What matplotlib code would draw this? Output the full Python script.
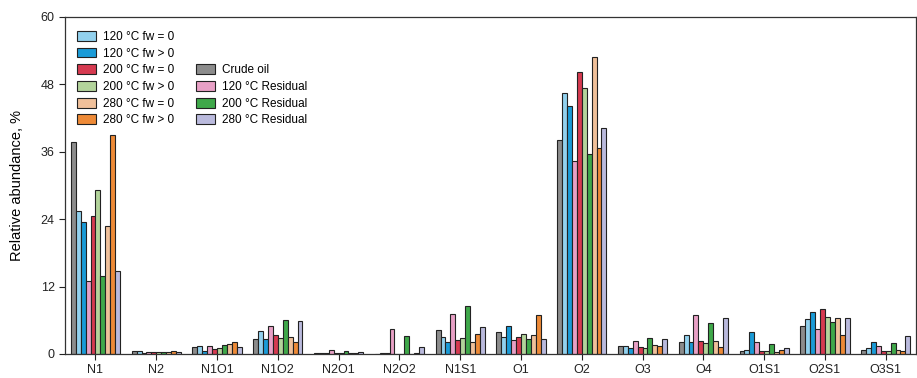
import numpy as np
import matplotlib
matplotlib.use('Agg')
from matplotlib import pyplot as plt
from matplotlib.patches import Patch

plt.rcParams['font.family'] = ['Liberation Sans', 'DejaVu Sans']

groups = ['N1', 'N2', 'N1O1', 'N1O2', 'N2O1', 'N2O2', 'N1S1', 'O1', 'O2',
          'O3', 'O4', 'O1S1', 'O2S1', 'O3S1']

crude     = [37.7, 0.5, 1.2, 2.6, 0.1, 0.05, 4.3, 3.9, 38.0, 1.4, 2.1, 0.6, 5.0, 0.8]
t120_fw0  = [25.5, 0.5, 1.4, 4.1, 0.1, 0.1, 3.0, 3.0, 46.5, 1.5, 3.4, 0.7, 6.25, 1.1]
t120_fw1  = [23.5, 0.2, 0.6, 2.7, 0.1, 0.1, 2.1, 4.9, 44.2, 1.0, 2.2, 3.9, 7.4, 2.1]
t120_res  = [13.0, 0.35, 1.4, 4.9, 0.7, 4.4, 7.1, 2.5, 34.4, 2.3, 7.0, 2.1, 4.4, 1.5]
t200_fw0  = [24.6, 0.35, 0.9, 3.4, 0.2, 0.0, 2.5, 3.0, 50.1, 1.3, 2.4, 0.5, 8.0, 0.6]
t200_fw1  = [29.2, 0.35, 1.0, 2.9, 0.1, 0.0, 2.9, 3.6, 47.3, 1.1, 2.0, 0.5, 6.5, 0.5]
t200_res  = [13.8, 0.3, 1.6, 6.1, 0.5, 3.2, 8.6, 2.6, 35.6, 2.8, 5.5, 1.7, 5.7, 2.0]
t280_fw0  = [22.7, 0.3, 1.8, 3.0, 0.1, 0.0, 2.1, 3.3, 52.9, 1.6, 2.3, 0.35, 6.4, 0.8]
t280_fw1  = [38.9, 0.5, 2.1, 2.1, 0.1, 0.25, 3.6, 7.0, 36.6, 1.4, 1.25, 0.7, 3.4, 0.5]
t280_res  = [14.8, 0.3, 1.2, 5.8, 0.35, 1.25, 4.8, 2.7, 40.2, 2.7, 6.4, 1.1, 6.4, 3.2]

series = [crude, t120_fw0, t120_fw1, t120_res, t200_fw0, t200_fw1, t200_res,
          t280_fw0, t280_fw1, t280_res]
labels = ['Crude oil', '120 °C fw = 0', '120 °C fw > 0', '120 °C Residual',
          '200 °C fw = 0', '200 °C fw > 0', '200 °C Residual',
          '280 °C fw = 0', '280 °C fw > 0', '280 °C Residual']
colors = ['#8c8c8c', '#92d1ee', '#1a9bd7', '#e8a0c6', '#d63a50', '#b3d49b',
          '#3fa84a', '#f0c09a', '#ee8a37', '#babadd']

fig = plt.figure(figsize=(9.17, 3.78), dpi=100)
ax = fig.add_axes([0.071, 0.0635, 0.928, 0.892])

x = np.arange(len(groups))
w = 0.081
bars = {}
for i, (vals, lab, col) in enumerate(zip(series, labels, colors)):
    bars[lab] = ax.bar(x + (i - 4.5) * w, vals, w, color=col, edgecolor='#222222',
                       linewidth=0.8, label=lab)

ax.set_xlim(-0.5, 13.5)
ax.set_ylim(0, 60)
ax.set_yticks([0, 12, 24, 36, 48, 60])
ax.set_xticks(x)
ax.set_xticklabels(groups)
ax.tick_params(labelsize=9, direction='out', length=4, width=0.8, colors='#222222')
ax.tick_params(axis='x', pad=3)
ax.set_ylabel('Relative abundance, %', fontsize=10.5, labelpad=12)
for s in ax.spines.values():
    s.set_linewidth(0.9)
    s.set_color('#333333')

# legend: two columns, right column starts at third row
blank = Patch(facecolor='none', edgecolor='none')
order_left = ['120 °C fw = 0', '120 °C fw > 0', '200 °C fw = 0', '200 °C fw > 0',
              '280 °C fw = 0', '280 °C fw > 0']
order_right = ['Crude oil', '120 °C Residual', '200 °C Residual', '280 °C Residual']
handles = [bars[k] for k in order_left] + [blank, blank] + [bars[k] for k in order_right]
hlabels = order_left + ['', ''] + order_right
ax.legend(handles, hlabels, ncol=2, loc='upper left', bbox_to_anchor=(0.002, 0.99),
          frameon=False, fontsize=8.5, handlelength=1.6, handleheight=0.9,
          labelspacing=0.4, columnspacing=1.9, handletextpad=0.55)

plt.savefig('out.png', dpi=100)
